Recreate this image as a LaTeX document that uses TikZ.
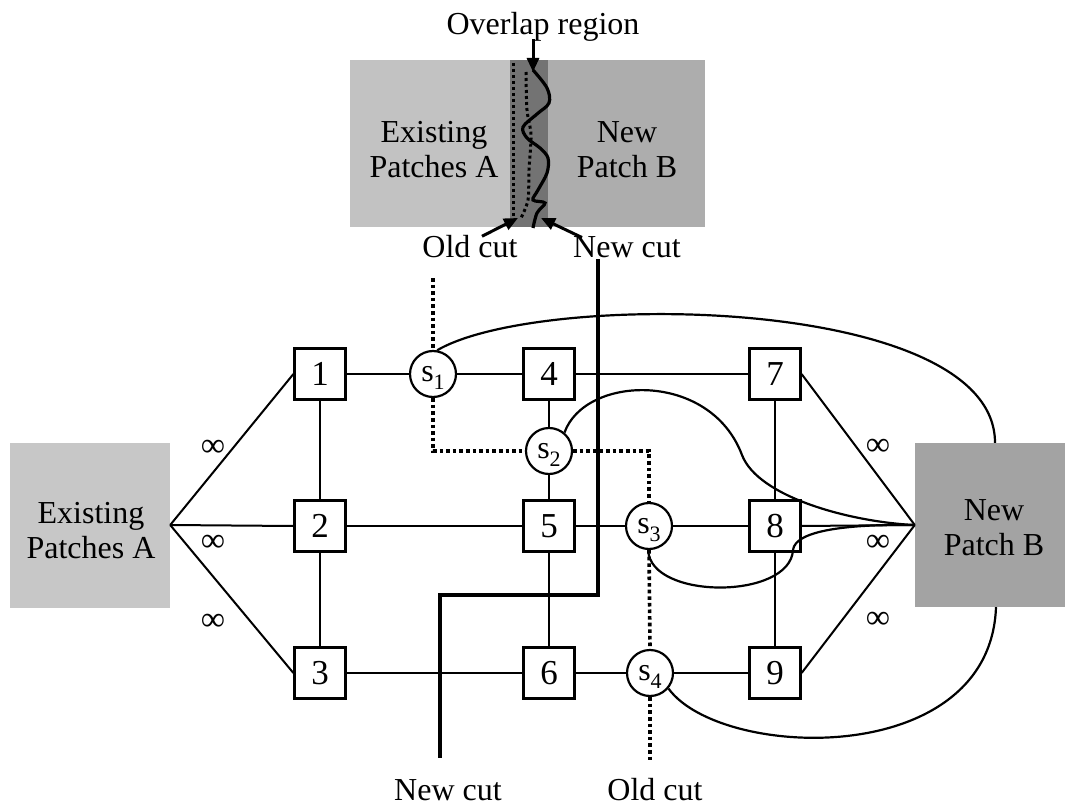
\documentclass[tikz,border=0pt]{standalone}
\usepackage{fontspec}
\setmainfont{Liberation Serif}
\usetikzlibrary{arrows.meta}
\newcommand{\ssub}[1]{s\raisebox{-8pt}{\fontsize{22}{22}\selectfont #1}}
\begin{document}
\begin{tikzpicture}[x=1pt,y=-1pt,
  every node/.style={font=\fontsize{32}{35}\selectfont},
  box/.style={draw,fill=white,line width=2.2pt,minimum size=51pt,inner sep=0pt,font=\fontsize{35}{35}\selectfont},
  snode/.style={draw,fill=white,circle,line width=2.2pt,minimum size=46pt,inner sep=0pt,text depth=0pt},
  link/.style={line width=2pt},
  wire/.style={line width=2.2pt},
  oldcut/.style={line width=3.6pt,dash pattern=on 3.6pt off 3pt},
  oldcutthin/.style={line width=3pt,dash pattern=on 3pt off 3pt},
  newcut/.style={line width=4.2pt},
  cutarr/.style={line width=3pt,-{Triangle[length=14pt,width=12pt]}},
  patchA/.style={fill=black!22,minimum width=160pt,minimum height=165pt,inner sep=0pt},
  patchB/.style={fill=black!36,minimum width=150pt,minimum height=164pt,inner sep=0pt},
  twoline/.style={align=center,font=\fontsize{32}{35}\selectfont},
  inf/.style={font=\fontsize{34}{34}\selectfont}
]
\useasboundingbox (0,0) rectangle (1068,805);

% ---------- inset at the top ----------
\fill[black!24] (350,60) rectangle (510,227);
\fill[black!55] (510,60) rectangle (548,227);
\fill[black!32] (548,60) rectangle (705,227);
\node[twoline] (insA) at (434,150) {Existing\\Patches A};
\node[twoline] (insB) at (627,150) {New\\Patch B};
\draw[oldcutthin] (513,63) -- (513,222);
\draw[oldcutthin] plot[smooth] coordinates {(526,72) (527,110) (531,135) (529,170) (528,200) (521,218)};
\draw[line width=3.2pt] plot[smooth,tension=0.55] coordinates {(533,70) (547,88) (549,103) (537,114) (523,127) (527,138) (540,148) (548,158) (547,173) (538,190) (533,200) (545,203) (537,213) (533,228)};

\node[anchor=base] (ovl) at (543,35) {Overlap region};
\coordinate (ovtip) at (533,72);
\draw[cutarr] ([yshift=-4pt]ovl.base -| ovtip) -- (ovtip);

\node[anchor=base] (oct) at (470,257) {Old cut};
\node[anchor=base] (nct) at (627,257) {New cut};
\coordinate (octip) at (518,218);
\coordinate (nctip) at (541,218);
\draw[cutarr] ([xshift=12pt,yshift=-5pt]oct.north) -- (octip);
\draw[cutarr] ([xshift=-45pt,yshift=-5pt]nct.north) -- (nctip);

% ---------- patches ----------
\node[patchA] (A) at (90,525) {};
\node[patchB] (B) at (990,525) {};
\node[twoline] (Atxt) at (91,531) {Existing\\Patches A};
\node[twoline] (Btxt) at (994,528) {New\\Patch B};

% ---------- graph nodes ----------
\node[box] (n1) at (320,374) {1};
\node[box] (n2) at (320,526) {2};
\node[box] (n3) at (320,673) {3};
\node[box] (n4) at (549,374) {4};
\node[box] (n5) at (549,526) {5};
\node[box] (n6) at (549,673) {6};
\node[box] (n7) at (775,374) {7};
\node[box] (n8) at (775,526) {8};
\node[box] (n9) at (775,673) {9};
\node[snode] (s1) at (433,374) {\ssub{1}};
\node[snode] (s2) at (549,451) {\ssub{2}};
\node[snode] (s3) at (649,526) {\ssub{3}};
\node[snode] (s4) at (650,673) {\ssub{4}};

% ---------- edges ----------
\draw[link] (n1) -- (s1) -- (n4) -- (n7);
\draw[link] (n2) -- (n5) -- (s3) -- (n8);
\draw[link] (n3) -- (n6) -- (s4) -- (n9);
\draw[link] (n1) -- (n2) -- (n3);
\draw[link] (n4) -- (s2) -- (n5) -- (n6);
\draw[link] (n7) -- (n8) -- (n9);
\draw[link] (A.east) -- (n1.west);
\draw[link] (A.east) -- (n2.west);
\draw[link] (A.east) -- (n3.west);
\draw[link] (n7.east) -- (B.west);
\draw[link] (n8.east) -- (B.west);
\draw[link] (n9.east) -- (B.west);

\node[inf] (i1) at (213,448) {∞};
\node[inf] (i2) at (213,543) {∞};
\node[inf] (i3) at (213,622) {∞};
\node[inf] (i4) at (878,447) {∞};
\node[inf] (i5) at (878,543) {∞};
\node[inf] (i6) at (878,620) {∞};

% ---------- curved links to patch B ----------
\draw[wire] (s1.80) .. controls (540,290) and (995,295) .. ([xshift=5pt]B.north);
\draw[wire] (s2.50) .. controls (585,375) and (710,370) .. (742,455)
                    .. controls (758,497) and (850,522) .. (B.west);
\draw[wire] (s3.-92) .. controls (650,600) and (790,600) .. (793,550)
                     .. controls (795,530) and (850,524) .. (B.west);
\draw[wire] (s4.-40) .. controls (720,760) and (990,770) .. ([xshift=6pt]B.south);

% ---------- cuts ----------
\coordinate (ocT) at (433,278);
\coordinate (ocB) at (650,762);
\draw[oldcut] (ocT) -- (s1.north);
\draw[oldcut] (s1.south) |- (s2.west);
\draw[oldcut] (s2.east) -| (s3.north);
\draw[oldcut] (s3.south) -- (s4.north);
\draw[oldcut] (s4.south) -- (ocB);

\coordinate (nc1) at (598,259);
\coordinate (ncm) at (598,595);
\coordinate (nc2) at (440,758);
\draw[newcut] (nc1) -- (ncm) -| (nc2);

\node[anchor=base] (ncb) at (448,800) {New cut};
\node[anchor=base] (ocb) at (655,800) {Old cut};
\end{tikzpicture}
\end{document}
